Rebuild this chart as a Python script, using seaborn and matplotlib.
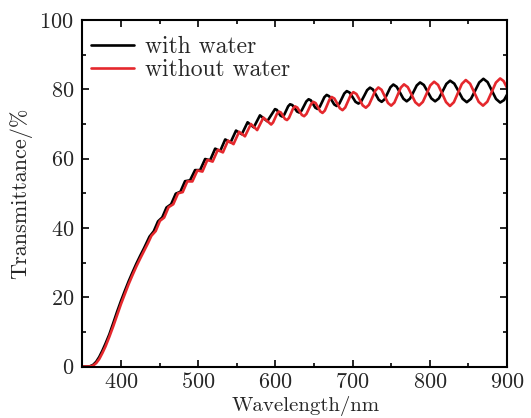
import numpy as np
import pandas as pd
import seaborn as sns
import matplotlib.pyplot as plt
from matplotlib.ticker import MultipleLocator

# wavelength (nm) / transmittance (%): with water
wl_water = [350, 356, 360, 364, 368, 372, 376, 380, 385, 390, 395, 400, 405, 410, 415, 420, 425, 430,
            437, 442.5, 448, 453.5, 459, 465, 471, 477, 483, 489.5, 496, 502.5, 509, 515.5, 522, 528.5,
            535, 542, 549, 556.5, 564, 572, 580, 589.5, 599.5,
            601.9, 604.25, 606.6, 609, 611.5, 614, 616.5, 619, 622, 625, 628, 631, 634, 637, 640, 643,
            645.9, 648.75, 651.6, 654.5, 657.5, 660.45, 663.4, 666.4, 669.65, 672.9, 676.15, 679.4,
            682.65, 685.9, 689.15, 692.4, 696.2, 699.95, 703.7, 707.5, 711.25, 715, 718.75, 722.5,
            726.3, 730.05, 733.8, 737.6, 741.4, 745.15, 748.9, 752.7, 757, 761.35, 765.7, 770,
            774.3, 778.65, 783, 787.3, 792.2, 797.05, 801.9, 806.8, 811.65, 816.5, 821.35, 826.2,
            831.6, 837, 842.4, 847.8, 853.2, 858.55, 863.9, 869.3, 874.7, 880.15, 885.6, 891, 896, 900]
tr_water = [0.0, 0.0, 0.1, 0.5, 1.4, 2.8, 4.6, 6.6, 9.3, 12.5, 15.8, 18.9, 21.8, 24.6, 27.2, 29.7, 32.0, 34.2,
            37.5, 39.05, 41.9, 43.05, 45.9, 46.85, 49.9, 50.45, 53.5, 53.75, 56.7, 56.7, 59.9, 59.55, 62.9, 62.2,
            65.55, 64.7, 68.1, 67.05, 70.5, 69.05, 72.5, 70.8, 74.3,
            74.08, 73.25, 72.41, 72.15, 72.72, 73.9, 75.1, 75.7, 75.46, 74.55, 73.6, 73.3, 73.91, 75.2, 76.51, 77.15,
            76.84, 75.8, 74.73, 74.35, 74.99, 76.35, 77.75, 78.4, 78.02, 76.85, 75.65, 75.2,
            75.84, 77.3, 78.8, 79.5, 79.06, 77.75, 76.41, 75.9, 76.58, 78.15, 79.77, 80.5,
            79.97, 78.5, 76.99, 76.4, 77.14, 78.85, 80.61, 81.4, 80.75, 79.05, 77.3, 76.55,
            77.32, 79.2, 81.13, 82.0, 81.27, 79.35, 77.39, 76.55, 77.39, 79.45, 81.57, 82.5,
            81.66, 79.5, 77.27, 76.3, 77.26, 79.6, 81.99, 83.05, 82.1, 79.7, 77.25, 76.2, 76.9, 78.5]

# without water
wl_dry = [350, 356, 360, 364, 368, 372, 376, 380, 385, 390, 395, 400, 405, 410, 415, 420, 425, 430, 435,
          439.5, 445, 450.5, 456, 461.7, 467.8, 474, 480, 486, 492.5, 499, 505.5, 512, 518.7, 525.5, 532,
          538.7, 545.8, 553, 560.6, 568.3, 576.4, 584.5, 594.5,
          597, 599.5, 602, 604.5, 607.1, 609.75, 612.4, 615, 617.6, 620.2, 622.8, 625.4, 628.35, 631.3,
          634.25, 637.2, 640.2, 643.15, 646.1, 649.1, 652.1, 655.05, 658, 661, 664, 666.95, 669.9, 672.9,
          676.4, 679.9, 683.4, 686.9, 690.4, 693.9, 697.4, 700.9, 704.95, 709, 713.05, 717.1, 721.15,
          725.2, 729.25, 733.3, 737.45, 741.6, 745.75, 749.9, 754.05, 758.2, 762.35, 766.5, 771.4,
          776.25, 781.1, 786, 790.9, 795.75, 800.6, 805.5, 810.6, 815.75, 820.9, 826, 831.1, 836.25,
          841.4, 846.5, 852.1, 857.65, 863.2, 868.8, 874.35, 879.9, 885.45, 891, 895.5, 900]
tr_dry = [0.0, 0.0, 0.05, 0.3, 1.0, 2.2, 3.9, 5.8, 8.6, 11.6, 14.8, 18.0, 20.9, 23.8, 26.4, 28.9, 31.2, 33.4, 35.6,
          37.75, 39.1, 42.05, 43.0, 46.0, 46.85, 50.0, 50.35, 53.45, 53.43, 56.6, 56.28, 59.65, 59.15, 62.57, 61.8,
          65.2, 64.2, 67.75, 66.45, 70.0, 68.25, 71.85, 69.85,
          70.45, 71.68, 72.94, 73.6, 73.33, 72.4, 71.46, 71.15, 71.76, 73.08, 74.43, 75.1, 74.76, 73.7,
          72.62, 72.25, 72.91, 74.3, 75.72, 76.4, 76.04, 74.88, 73.66, 73.2, 73.88, 75.43, 77.02, 77.8,
          77.35, 75.98, 74.55, 74.0, 74.77, 76.53, 78.33, 79.2, 78.66, 77.05, 75.38, 74.7, 75.54,
          77.53, 79.58, 80.55, 79.88, 78.0, 76.07, 75.3, 76.19, 78.33, 80.5, 81.45, 80.64,
          78.5, 76.29, 75.35, 76.38, 78.75, 81.16, 82.2, 81.29, 78.88, 76.34, 75.2, 76.3, 78.93,
          81.57, 82.7, 81.63, 79.03, 76.4, 75.3, 76.44, 79.18, 81.95, 83.15, 82.4, 80.4]

labels = ["with water", "without water"]
colors = ["#000000", "#e5282d"]

df = pd.concat([
    pd.DataFrame({"wl": wl_water, "T": tr_water, "sample": labels[0]}),
    pd.DataFrame({"wl": wl_dry, "T": tr_dry, "sample": labels[1]}),
])

sns.set_theme(style="ticks")
plt.rcParams["font.family"] = "serif"
plt.rcParams["font.serif"] = ["cmr10", "DejaVu Serif"]
plt.rcParams["mathtext.fontset"] = "cm"
plt.rcParams["axes.formatter.use_mathtext"] = True

fig, ax = plt.subplots(figsize=(5.31, 4.18), dpi=100)
fig.subplots_adjust(left=0.155, right=0.955, bottom=0.123, top=0.952)

sns.lineplot(data=df, x="wl", y="T", hue="sample", hue_order=labels,
             palette=colors, linewidth=1.9, estimator=None, sort=False, ax=ax)

ax.set_xlim(350, 900)
ax.set_ylim(0, 100)
ax.xaxis.set_major_locator(MultipleLocator(100))
ax.xaxis.set_minor_locator(MultipleLocator(50))
ax.yaxis.set_major_locator(MultipleLocator(20))
ax.yaxis.set_minor_locator(MultipleLocator(10))
ax.tick_params(which="both", direction="in", top=True, right=True, width=1.2, labelsize=16, color="black")
ax.tick_params(which="major", length=5)
ax.tick_params(which="minor", length=3)
ax.tick_params(axis="y", pad=6)
ax.tick_params(axis="x", pad=4)
for sp in ax.spines.values():
    sp.set_linewidth(1.5)
    sp.set_color("black")

ax.set_xlabel("Wavelength/nm", fontsize=15)
ax.xaxis.set_label_coords(0.527, -0.084)
ax.set_ylabel("Transmittance/%", fontsize=16, labelpad=5)

h, l = ax.get_legend_handles_labels()
ax.legend(h, l, loc="upper left", bbox_to_anchor=(0.02, 0.955), frameon=False,
          fontsize=17, handlelength=1.85, handletextpad=0.45, labelspacing=0.05,
          borderaxespad=0, borderpad=0)

fig.savefig("out.png", dpi=100)
